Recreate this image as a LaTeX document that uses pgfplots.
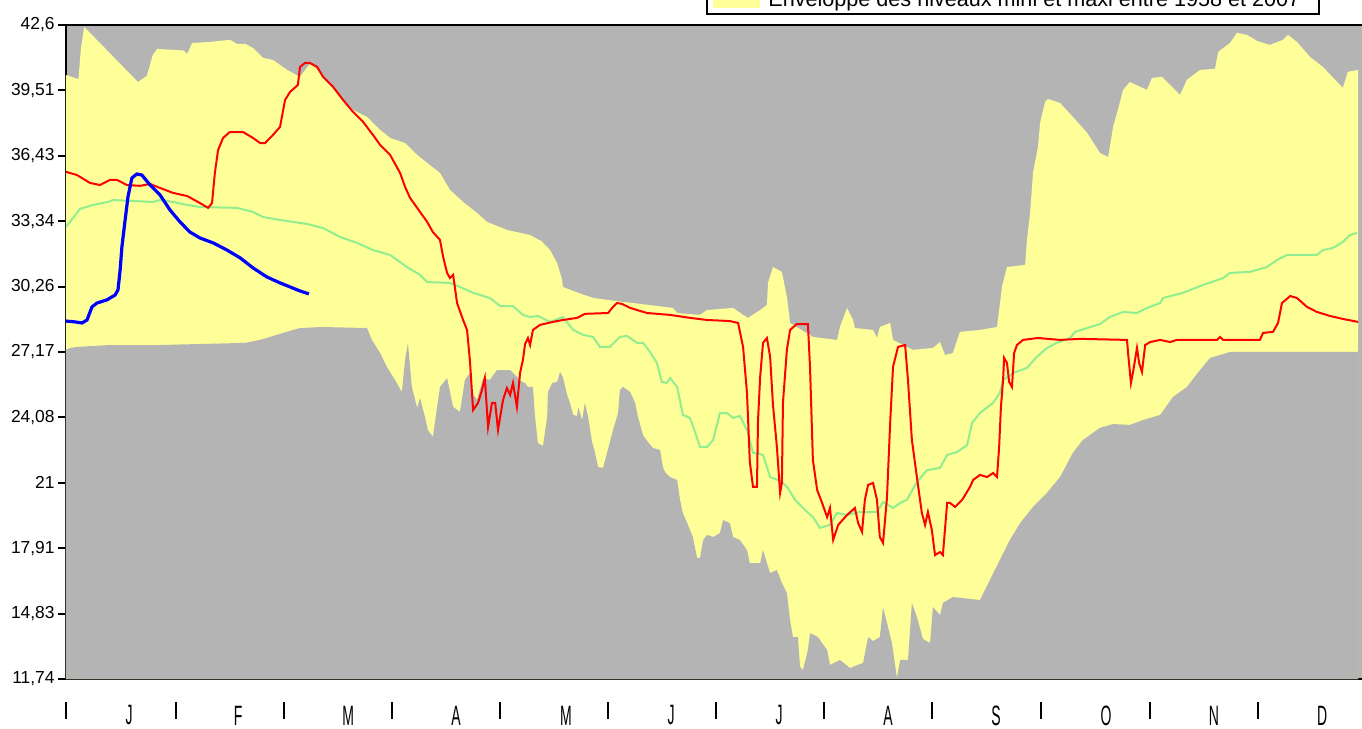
\documentclass[border=0pt]{standalone}
\usepackage{pgfplots}
\pgfplotsset{compat=1.18}
\usepackage{fontspec}
\setmainfont{Liberation Sans}
\usepackage{graphicx}

\definecolor{fond}{RGB}{180,180,180}
\definecolor{enveloppe}{RGB}{255,255,153}
\definecolor{moyenne}{RGB}{144,238,144}

\newcommand{\mois}[1]{\scalebox{1}[2]{\fontsize{7}{8}\selectfont #1}}
\newcommand{\barre}{\raisebox{0pt}[4.25pt][4.25pt]{\rule[-1.75pt]{1pt}{8.5pt}}}

\begin{document}
\begin{tikzpicture}
\begin{axis}[
    scale only axis,
    width=650pt, height=327pt,
    at={(0,0)}, anchor=south west,
    xmin=0, xmax=365,
    ymin=11.74, ymax=42.6,
    axis background/.style={fill=fond},
    axis line style={line width=1.2pt},
    ytick={11.74,14.83,17.91,21,24.08,27.17,30.26,33.34,36.43,39.51,42.6},
    yticklabels={11{,}74,14{,}83,17{,}91,21,24{,}08,27{,}17,30{,}26,33{,}34,36{,}43,39{,}51,42{,}6},
    ytick pos=left,
    tick align=outside,
    major tick length=4pt,
    ytick style={line width=1pt, black},
    yticklabel style={font=\fontsize{8.7}{10}\selectfont, inner sep=0pt, xshift=-1.5pt},
    xtick={0,17.7,30.9,48.3,61.2,79.2,91.5,109.5,121.9,140.4,152.2,169.9,182.5,200.2,
           212.8,230.8,243.1,261.1,273.7,292.0,304.3,322.3,334.7,352.7},
    xticklabels={\barre,\mois{J},\barre,\mois{F},\barre,\mois{M},\barre,\mois{A},
                 \barre,\mois{M},\barre,\mois{J},\barre,\mois{J},\barre,\mois{A},
                 \barre,\mois{S},\barre,\mois{O},\barre,\mois{N},\barre,\mois{D}},
    xtick style={draw=none},
    xticklabel style={anchor=center, yshift=-14.25pt},
    no markers,
]
% enveloppe maxi
\addplot[fill=enveloppe, draw=none] coordinates {
(0,40.24) (2.5,40.10) (3.5,40.05) (4.2,41.5) (5.1,42.51) (20.2,39.91) (21.0,40.0)
(22.7,40.2) (24.4,41.2) (25.6,41.47) (33.0,41.4) (34.0,41.23) (35.4,41.75)
(40.4,41.80) (46.0,41.90) (48.0,41.71) (50.3,41.71) (52.5,41.52) (55.3,41.05)
(58.1,40.95) (62.1,40.48) (65.7,40.15) (67.7,40.6) (68.5,40.75) (70.5,40.55)
(72.2,40.10) (75.0,39.6) (77.8,39.0) (80.6,38.59) (84.5,38.26) (88.2,37.65)
(91.0,37.27) (95.2,37.03) (98.6,36.47) (101.4,36.09) (105.0,35.62) (107.8,34.82)
(111.5,34.25) (115.4,33.73) (118.2,33.31) (123.8,32.93) (130.3,32.69) (133.5,32.4)
(135.9,31.98) (137.9,31.37) (139.3,30.57) (139.5,30.24) (143.8,29.96) (148.0,29.72)
(156.4,29.53) (159.2,29.48) (170.4,29.25) (171.6,29.01) (178.0,28.92) (180.0,29.15)
(187.3,29.25) (190.1,28.92) (191.5,28.78) (194.9,29.15) (196.8,29.39) (197.1,30.43)
(198.5,31.18) (201.0,30.95) (202.4,29.77) (203.3,28.54) (209.7,27.88) (216.5,27.74)
(217.3,28.35) (219.3,29.25) (221.0,28.68) (221.5,28.30) (226.6,28.21) (227.7,27.83)
(228.5,28.35) (231.4,28.54) (232.2,27.74) (237.8,27.27) (243.4,27.36) (245.4,27.64)
(246.8,27.03) (249.0,27.12) (251.0,28.12) (256.6,28.21) (261.4,28.35) (262.8,30.24)
(264.2,31.18) (269.3,31.28) (269.8,32.46) (270.7,33.73) (271.5,35.62) (272.9,36.85)
(273.5,37.98) (274.9,38.97) (275.7,39.11) (279.1,38.92) (282.7,38.26) (286.7,37.51)
(290.3,36.56) (292.6,36.37) (294.0,37.79) (295.1,38.45) (296.8,39.54) (298.7,39.91)
(301.6,39.68) (303.5,39.54) (304.9,40.10) (307.7,40.15) (312.8,39.30) (314.7,40.01)
(318.4,40.48) (322.6,40.53) (323.5,41.33) (326.8,41.75) (328.8,42.23) (331.6,42.13)
(334.4,41.85) (338.0,41.66) (341.7,41.90) (343.1,42.13) (345.6,41.80) (349.3,41.09)
(352.9,40.62) (358.5,39.63) (359.9,40.39) (362.8,40.48)
} \closedcycle;
% enveloppe mini
\addplot[fill=fond, draw=none] coordinates {
(0,27.27) (1.1,27.36) (3.1,27.41) (12.4,27.50) (26.4,27.50) (50.3,27.60) (54.5,27.74)
(59.2,27.98) (63.7,28.21) (65.7,28.30) (71.9,28.35) (84.5,28.30) (85.9,27.74)
(88.2,27.12) (90.1,26.46) (92.4,25.85) (94.3,25.28) (95.2,26.79) (96.0,27.60)
(97.1,25.52) (98.6,24.53) (99.4,25.0) (100.8,24.10) (101.6,23.49) (103.0,23.16)
(104.2,24.58) (105.0,25.52) (107.0,25.94) (108.7,24.58) (110.6,24.34) (112.0,25.85)
(113.4,26.18) (114.0,25.24) (115.4,24.91) (117.1,25.94) (119.0,25.85) (121.0,26.32)
(124.7,26.32) (128.0,25.76) (128.9,25.71) (129.7,25.52) (131.1,25.52) (131.7,24.10)
(132.5,22.88) (133.9,22.73) (135.1,24.10) (135.3,25.28) (136.5,25.71) (137.9,25.76)
(138.7,26.23) (139.5,25.99) (140.7,25.14) (141.5,24.77) (142.4,24.20) (143.5,24.15)
(143.8,24.58) (144.9,23.96) (145.7,24.77) (146.6,24.10) (147.7,22.92) (148.5,22.45)
(149.4,21.74) (150.8,21.70) (151.9,22.41) (153.6,23.49) (155.0,24.29) (155.5,25.38)
(156.4,25.52) (158.4,25.28) (159.8,24.77) (160.6,24.10) (162.0,23.25) (163.4,22.92)
(164.8,22.64) (166.8,22.55) (167.6,21.74) (168.2,21.50) (169.6,21.27) (171.6,21.13)
(172.4,20.19) (173.2,19.57) (174.4,19.10) (176.0,18.44) (177.2,17.45) (178.0,17.45)
(178.9,18.30) (180.0,18.54) (181.7,18.44) (183.6,18.63) (184.5,19.24) (186.4,19.10)
(187.3,18.44) (189.2,18.30) (191.2,17.83) (192.0,17.21) (194.9,17.21) (195.7,17.83)
(196.8,17.21) (197.7,16.74) (199.6,16.88) (201.0,16.27) (202.4,15.80) (203.3,14.52)
(204.1,13.72) (205.5,13.72) (206.1,12.31) (206.9,12.16) (208.3,13.11) (208.9,13.91)
(211.1,13.72) (213.7,13.11) (214.5,12.40) (217.3,12.64) (220.1,12.26) (223.8,12.50)
(225.2,13.72) (226.6,13.53) (228.5,13.72) (229.4,15.14) (231.9,13.44) (233.3,11.79)
(234.2,12.64) (236.4,12.64) (237.5,15.33) (238.9,14.67) (240.6,13.63) (242.6,13.44)
(243.4,15.14) (245.4,14.76) (246.2,15.33) (249.0,15.61) (256.6,15.47) (265.0,18.30)
(267.9,19.10) (271.5,19.86) (275.4,20.52) (279.1,21.27) (282.7,22.41) (285.5,23.02)
(290.3,23.59) (294.0,23.77) (298.7,23.73) (302.4,23.96) (307.2,24.20) (310.8,25.05)
(314.7,25.52) (318.4,26.32) (321.2,26.89) (326.8,27.17) (362.8,27.17)
} \closedcycle;
% moyenne
\addplot[moyenne, line width=1pt] coordinates {
(0,33.07) (2.0,33.50) (3.9,33.92) (7.6,34.11) (11.8,34.25) (13.2,34.34) (24.4,34.25)
(26.4,34.34) (30.0,34.25) (34.0,34.11) (37.6,34.01) (48.0,33.97) (52.5,33.78)
(55.3,33.54) (60.1,33.40) (65.7,33.26) (67.7,33.21) (72.2,33.02) (76.9,32.60)
(81.7,32.32) (86.2,31.98) (91.0,31.75) (95.7,31.18) (99.4,30.81) (101.4,30.47)
(107.8,30.43) (110.6,30.24) (114.3,29.96) (119.0,29.72) (121.9,29.34) (125.5,29.34)
(128.3,28.92) (130.3,28.82) (132.5,28.87) (135.9,28.59) (139.5,28.82) (142.4,28.21)
(145.2,27.98) (148.0,27.88) (149.9,27.41) (152.7,27.41) (155.5,27.88) (157.5,27.93)
(160.3,27.60) (162.0,27.60) (164.0,27.17) (165.9,26.65) (167.3,25.76) (168.7,25.71)
(169.6,25.94) (171.6,25.52) (173.2,24.20) (175.2,24.06) (176.6,23.40) (178.0,22.69)
(180.0,22.69) (181.7,23.02) (183.6,24.29) (185.6,24.29) (187.3,24.06) (189.2,24.15)
(191.2,23.49) (192.9,22.41) (193.5,22.41) (195.7,22.31) (197.7,21.27) (199.9,21.13)
(201.3,20.99) (202.7,20.75) (204.7,20.19) (208.1,19.62) (209.7,19.38) (211.7,18.87)
(214.5,19.01) (216.5,19.57) (219.3,19.48) (222.9,19.62) (227.7,19.62) (229.4,20.09)
(232.2,19.81) (234.2,20.05) (236.1,20.19) (238.9,21.04) (241.8,21.60) (245.4,21.70)
(247.4,22.31) (250.2,22.45) (253.0,22.78) (254.4,23.82) (256.6,24.29) (260.3,24.77)
(262.2,25.24) (263.1,25.85) (265.9,26.18) (269.8,26.42) (272.6,26.94) (275.4,27.36)
(278.2,27.60) (281.9,27.83) (283.3,28.12) (286.7,28.30) (290.3,28.49) (293.1,28.82)
(296.8,29.06) (300.7,29.01) (303.5,29.25) (307.2,29.48) (308.0,29.72) (313.6,29.96)
(319.2,30.33) (324.9,30.66) (326.8,30.90) (332.4,30.95) (337.2,31.18) (340.0,31.51)
(342.8,31.75) (351.2,31.75) (352.9,31.98) (355.7,32.08) (358.5,32.36) (360.5,32.69)
(362.5,32.79)
};
% annee de reference
\addplot[red, line width=1pt] coordinates {
(0,35.67) (3.1,35.52) (6.7,35.15) (9.5,35.05) (12.4,35.29) (14.3,35.29) (17.1,35.05)
(20.8,35.01) (23.6,35.10) (26.4,34.91) (30.0,34.68) (34.0,34.53) (37.6,34.20)
(39.9,33.97) (41.0,34.20) (41.8,35.62) (42.7,36.70) (44.1,37.27) (46.0,37.55)
(49.7,37.55) (52.5,37.27) (54.5,37.03) (55.9,37.03) (58.1,37.41) (60.1,37.79)
(61.5,39.06) (62.9,39.44) (65.1,39.77) (65.7,40.62) (67.1,40.81) (68.5,40.81)
(70.5,40.62) (72.2,40.15) (75.0,39.68) (77.8,39.06) (80.6,38.50) (83.4,38.03)
(86.2,37.41) (88.2,36.94) (91.0,36.47) (93.8,35.62) (95.2,34.96) (96.6,34.44)
(99.4,33.78) (101.4,33.31) (103.0,32.83) (105.0,32.46) (105.9,31.65) (107.0,30.90)
(107.8,30.66) (108.7,30.81) (109.8,29.48) (111.5,28.68) (112.6,28.21) (113.4,26.79)
(114.3,24.43) (115.7,24.77) (116.8,25.38) (117.6,25.94) (118.5,23.63) (119.6,24.77)
(120.5,24.77) (121.3,23.49) (122.7,24.91) (123.8,25.47) (124.7,25.14) (125.5,25.71)
(126.6,24.58) (127.5,26.2) (128.3,26.8) (128.9,27.55) (129.7,27.83) (130.3,27.50)
(131.1,28.21) (133.1,28.45) (136.7,28.59) (139.5,28.68) (143.5,28.78) (145.7,28.97)
(152.2,29.01) (153.6,29.30) (154.7,29.48) (156.1,29.44) (158.4,29.25) (163.1,29.01)
(169.6,28.92) (175.2,28.78) (180.0,28.68) (186.4,28.63) (188.7,28.54) (190.1,27.41)
(191.2,25.24) (192.0,21.98) (192.9,20.80) (194.0,20.80) (194.3,23.96) (194.9,25.99)
(195.7,27.60) (196.8,27.83) (197.7,26.94) (198.5,24.67) (199.6,22.69) (200.5,20.52)
(201.0,20.99) (201.3,24.77) (202.4,27.27) (203.3,28.21) (205.2,28.49) (208.3,28.49)
(208.9,26.46) (209.7,22.08) (210.9,20.66) (212.5,19.95) (213.7,19.38) (214.5,19.81)
(215.4,18.30) (216.8,19.01) (219.3,19.48) (221.5,19.81) (222.4,19.10) (223.5,18.68)
(224.3,20.19) (225.2,20.90) (226.6,20.99) (227.7,20.19) (228.5,18.44) (229.4,18.16)
(230.5,20.28) (231.4,23.82) (232.2,26.46) (233.6,27.41) (235.6,27.50) (236.4,25.85)
(237.5,23.02) (238.9,21.27) (240.3,19.57) (241.2,19.01) (242.0,19.62) (243.1,18.77)
(244.0,17.59) (245.4,17.73) (246.2,17.59) (247.4,20.05) (248.2,20.05) (249.6,19.86)
(251.6,20.19) (253.8,20.80) (254.7,21.13) (256.6,21.37) (258.6,21.27) (260.3,21.46)
(261.4,21.27) (262.0,22.69) (262.5,24.58) (263.1,25.85) (263.4,26.89) (264.2,26.65)
(264.8,25.76) (265.6,25.52) (266.2,27.12) (267.0,27.50) (268.7,27.74) (272.9,27.83)
(279.1,27.74) (284.7,27.79) (297.9,27.74) (298.2,27.12) (299.0,25.71) (299.6,26.23)
(300.7,27.36) (301.3,26.65) (302.1,26.23) (303.0,27.50) (304.4,27.64) (307.2,27.74)
(310.0,27.64) (311.9,27.74) (323.2,27.74) (324.0,27.88) (324.9,27.74) (335.2,27.74)
(336.1,28.07) (338.9,28.12) (340.3,28.54) (341.4,29.48) (343.7,29.81) (345.6,29.72)
(348.4,29.30) (351.2,29.06) (354.9,28.87) (358.5,28.73) (362.8,28.59)
};
% annee en cours
\addplot[blue, line width=1.6pt] coordinates {
(0,28.63) (2.5,28.59) (4.5,28.54) (5.9,28.68) (7.3,29.30) (8.7,29.48) (11.5,29.63)
(13.8,29.86) (14.6,30.10) (15.2,31.04) (15.7,32.13) (16.6,33.40) (17.4,34.49)
(18.5,35.38) (19.9,35.57) (21.3,35.52) (23.6,35.05) (26.4,34.58) (29.2,33.87)
(32.0,33.31) (34.8,32.83) (37.6,32.55) (41.3,32.32) (45.2,31.98) (48.9,31.61)
(52.5,31.14) (56.4,30.71) (60.1,30.43) (65.7,30.05) (68.2,29.91)
};
\end{axis}
% legende (coupee par le haut de l'image)
\draw[line width=1pt, fill=white] (320.5pt,332.5pt) rectangle (626.5pt,352pt);
\fill[enveloppe] (323.5pt,335.5pt) rectangle (347pt,348pt);
\node[anchor=base west, inner sep=0pt, font=\fontsize{10.8}{12}\selectfont] at (351pt,336pt)
  {Enveloppe des niveaux mini et maxi entre 1958 et 2007};
\pgfresetboundingbox
\useasboundingbox (-33pt,-25pt) rectangle (648pt,339.5pt);
\end{tikzpicture}
\end{document}
